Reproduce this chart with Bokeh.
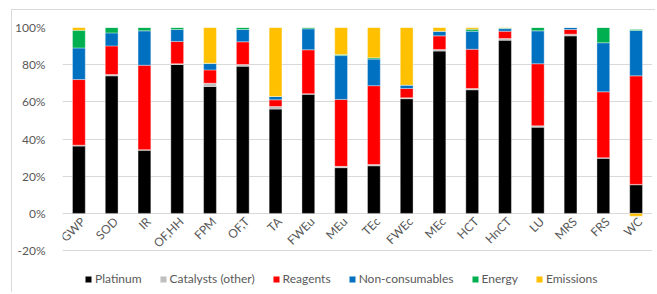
import numpy as np
from math import pi
from bokeh.plotting import figure
from bokeh.models import (ColumnDataSource, Range1d, FixedTicker, PrintfTickFormatter,
                          Legend, LegendItem)
from bokeh.core.properties import value
from bokeh.embed import file_html
from bokeh.resources import INLINE

categories = ["GWP", "SOD", "IR", "OF,HH", "FPM", "OF,T", "TA", "FWEu", "MEu",
              "TEc", "FWEc", "MEc", "HCT", "HnCT", "LU", "MRS", "FRS", "WC"]

platinum = [36.2, 74.0, 34.0, 80.1, 68.3, 79.2, 56.1, 64.1, 24.6,
            25.6, 61.7, 87.3, 66.5, 93.2, 46.4, 95.5, 29.7, 15.4]
catalysts = [0.5, 0.7, 0.3, 0.4, 1.7, 0.9, 1.4, 0.3, 0.7,
             0.7, 0.5, 0.9, 0.7, 0.9, 0.7, 0.9, 0.2, 0.2]
reagents = [35.3, 15.4, 45.4, 12.0, 7.2, 12.2, 3.6, 23.6, 36.0,
            42.4, 5.0, 7.3, 21.1, 3.9, 33.4, 2.5, 35.5, 58.4]
non_consumables = [17.0, 7.0, 18.5, 6.4, 3.4, 6.6, 1.8, 11.3, 23.6,
                   14.3, 1.8, 2.5, 9.7, 1.4, 17.7, 1.1, 26.4, 24.4]
energy = [9.5, 2.9, 1.8, 1.1, 0.2, 1.1, 0.0, 0.7, 0.6,
          0.7, 0.0, 0.0, 1.1, 0.3, 1.8, 0.0, 8.2, 0.5]
emissions = [1.5, 0.0, 0.0, 0.0, 19.2, 0.0, 37.1, 0.0, 14.5,
             16.3, 31.0, 2.0, 0.9, 0.3, 0.0, 0.0, 0.0, -1.5]

series_names = ["Platinum", "Catalysts (other)", "Reagents", "Non-consumables", "Energy", "Emissions"]
series_values = [platinum, catalysts, reagents, non_consumables, energy, emissions]
series_colors = ["#000000", "#BFBFBF", "#FF0000", "#0070C0", "#00B050", "#FFC000"]

y_ticks = [-20, 0, 20, 40, 60, 80, 100]

FONT = "Lato"
TXT = "#595959"

# frame: 100% at top, extra room below -20% holds the legend
p = figure(x_range=categories, y_range=Range1d(-43.1, 100), width=644, height=283,
           output_backend="svg", toolbar_location=None,
           min_border_left=50, min_border_right=4, min_border_top=17, min_border_bottom=0)
p.styles = {"margin-left": "11px", "margin-top": "9px",
            "border-left": "1px solid #D9D9D9", "border-top": "1px solid #D9D9D9"}
p.outline_line_color = None
p.xgrid.visible = False
p.ygrid.grid_line_color = "#D9D9D9"
p.ygrid.grid_line_width = 1
p.ygrid.ticker = FixedTicker(ticks=y_ticks)

p.xaxis.visible = False
p.yaxis.ticker = FixedTicker(ticks=y_ticks)
p.yaxis.formatter = PrintfTickFormatter(format="%d%%")
p.yaxis.axis_line_color = None
p.yaxis.major_tick_line_color = None
p.yaxis.minor_tick_line_color = None
p.yaxis.major_label_text_font = FONT
p.yaxis.major_label_text_font_size = "12px"
p.yaxis.major_label_text_color = TXT
p.yaxis.major_label_standoff = 11

pos_base = np.zeros(len(categories))
neg_base = np.zeros(len(categories))
items = []
for name, vals, col in zip(series_names, series_values, series_colors):
    v = np.array(vals, dtype=float)
    bottom = np.where(v >= 0, pos_base, neg_base + v)
    top = np.where(v >= 0, pos_base + v, neg_base)
    pos_base = pos_base + np.where(v >= 0, v, 0)
    neg_base = neg_base + np.where(v < 0, v, 0)
    src = ColumnDataSource(dict(x=categories, bottom=bottom, top=top))
    r = p.vbar(x="x", bottom="bottom", top="top", width=0.39, source=src,
               fill_color=col, line_color="white", line_alpha=0.45, line_width=0.8)
    items.append(LegendItem(label=name, renderers=[r]))

lab = ColumnDataSource(dict(x=categories, y=[0] * len(categories), t=categories))
p.text(x="x", y="y", text="t", source=lab, angle=pi / 4, text_align="right",
       text_baseline="middle", x_offset=4, y_offset=6,
       text_font=value(FONT), text_font_size="12px", text_color=TXT)

legend = Legend(items=items, location=(22, 7), orientation="horizontal",
                padding=0, margin=0, spacing=17, label_standoff=3,
                glyph_width=8, glyph_height=8, label_height=14,
                label_text_font=FONT, label_text_font_size="12px", label_text_color=TXT,
                background_fill_alpha=0, border_line_alpha=0)
p.add_layout(legend, "center")

open("out.html", "w").write(file_html(p, INLINE))
